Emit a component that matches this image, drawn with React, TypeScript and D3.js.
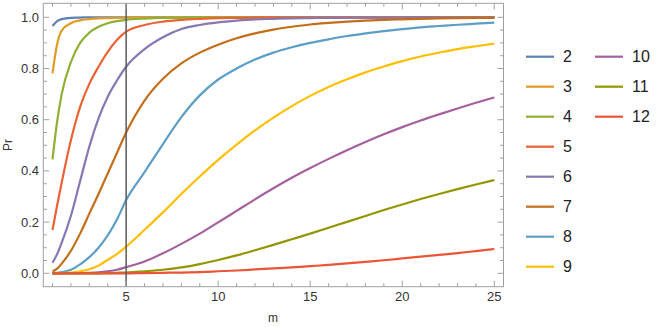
import * as d3 from "d3";

const mGrid = [1, 1.25, 1.5, 2, 2.5, 3, 3.5, 4, 4.5, 5, 6, 7, 8, 9, 10, 11, 12, 13, 14, 15, 16, 17, 18, 19, 20, 21, 22, 23, 24, 25];

const ones = (k: number) => Array(k).fill(1);
const zeros = (k: number) => Array(k).fill(0);

const n2 = [0.966, 0.985, 0.993, 0.998, 0.999, ...ones(25)];
const n3 = [0.781, 0.895, 0.948, 0.977, 0.988, 0.993, 0.996, 0.997, 0.998, 0.999, ...ones(20)];
const n4 = [0.445, 0.592, 0.7, 0.825, 0.9, 0.94, 0.963, 0.977, 0.985, 0.99, 0.995, 0.998, 0.999, ...ones(17)];
const n5 = [0.169, 0.265, 0.355, 0.52, 0.65, 0.74, 0.807, 0.865, 0.911, 0.944, 0.97, 0.983, 0.99, 0.994, 0.997, 0.998, 0.999, ...ones(13)];
const n6 = [0.041, 0.075, 0.12, 0.225, 0.36, 0.495, 0.605, 0.69, 0.753, 0.807, 0.876, 0.922, 0.954, 0.97, 0.98, 0.987, 0.992, 0.994, 0.996, 0.997, 0.998, 0.998, 0.999, 0.999, 0.999, 1, 1, 1, 1, 1];
const n7 = [0.007, 0.018, 0.038, 0.088, 0.155, 0.233, 0.31, 0.39, 0.47, 0.55, 0.675, 0.76, 0.82, 0.862, 0.893, 0.918, 0.937, 0.952, 0.963, 0.972, 0.978, 0.983, 0.987, 0.99, 0.992, 0.994, 0.9955, 0.9966, 0.9975, 0.998];
const n8 = [0.001, 0.002, 0.005, 0.014, 0.035, 0.063, 0.1, 0.148, 0.21, 0.286, 0.395, 0.505, 0.61, 0.695, 0.757, 0.8, 0.835, 0.862, 0.883, 0.9, 0.914, 0.927, 0.937, 0.946, 0.954, 0.961, 0.966, 0.971, 0.975, 0.979];
const n9 = [0, 0, 0.001, 0.003, 0.008, 0.016, 0.03, 0.053, 0.075, 0.104, 0.17, 0.238, 0.31, 0.378, 0.443, 0.503, 0.558, 0.608, 0.653, 0.693, 0.728, 0.758, 0.785, 0.808, 0.829, 0.847, 0.862, 0.876, 0.887, 0.897];
const n10 = [0, 0, 0, 0, 0.001, 0.002, 0.004, 0.008, 0.014, 0.024, 0.046, 0.078, 0.115, 0.155, 0.199, 0.244, 0.289, 0.332, 0.373, 0.411, 0.447, 0.481, 0.513, 0.543, 0.571, 0.597, 0.621, 0.644, 0.666, 0.687];
const n11 = [0, 0, 0, 0, 0, 0, 0, 0.001, 0.002, 0.003, 0.008, 0.014, 0.023, 0.036, 0.052, 0.07, 0.09, 0.111, 0.133, 0.155, 0.178, 0.201, 0.224, 0.247, 0.269, 0.29, 0.31, 0.329, 0.347, 0.364];
const n12 = [...zeros(10), 0.001, 0.002, 0.003, 0.005, 0.008, 0.011, 0.015, 0.019, 0.023, 0.028, 0.033, 0.039, 0.045, 0.051, 0.058, 0.065, 0.072, 0.079, 0.087, 0.095];

const seriesNames = ["2", "3", "4", "5", "6", "7", "8", "9", "10", "11", "12"];
const seriesValues = [n2, n3, n4, n5, n6, n7, n8, n9, n10, n11, n12];
const colors = ["#5e81b5", "#e19c24", "#8fb032", "#eb6235", "#8778b3", "#c56e1a", "#5d9ec7", "#ffbf00", "#a5609d", "#929600", "#e95536"];

const xTicks = [5, 10, 15, 20, 25];
const yTicks = [0, 0.2, 0.4, 0.6, 0.8, 1.0];
const markerM = 5;

const W = 664;
const H = 327;
const plot = { left: 43.3, right: 503.5, top: 3.3, bottom: 286.7 };

export default function App() {
  const x = d3.scaleLinear().domain([0.5, 25.5]).range([plot.left, plot.right]);
  const y = d3.scaleLinear().domain([-0.0523, 1.0547]).range([plot.bottom, plot.top]);

  const line = d3
    .line<[number, number]>()
    .x((d) => x(d[0]))
    .y((d) => y(d[1]))
    .curve(d3.curveMonotoneX);

  const xMinor = d3.range(1, 26, 1).filter((t) => !xTicks.includes(t));
  const yMinor = d3.range(0, 1.0001, 0.05).filter((t) => !yTicks.some((v) => Math.abs(v - t) < 1e-6));

  const frameColor = "#a0a0a0";
  const tickColor = "#a0a0a0";
  const font = "'Liberation Sans', Arial, sans-serif";
  const major = 6;
  const minor = 3.5;

  return (
    <svg width={W} height={H} style={{ position: "absolute", left: 0, top: 0 }} fontFamily={font}>
      <rect width={W} height={H} fill="#fff" />
      <defs>
        <clipPath id="plotclip">
          <rect x={plot.left} y={plot.top} width={plot.right - plot.left} height={plot.bottom - plot.top} />
        </clipPath>
      </defs>

      {/* curves */}
      <g clipPath="url(#plotclip)">
        {seriesValues.map((vals, i) => (
          <path
            key={i}
            d={line(mGrid.map((m, j) => [m, vals[j]] as [number, number])) || ""}
            fill="none"
            stroke={colors[i]}
            strokeWidth={2.2}
          />
        ))}
        <line x1={x(markerM)} x2={x(markerM)} y1={plot.top} y2={plot.bottom} stroke="#5a5a5a" strokeWidth={1.5} />
      </g>

      {/* frame */}
      <rect
        x={plot.left}
        y={plot.top}
        width={plot.right - plot.left}
        height={plot.bottom - plot.top}
        fill="none"
        stroke={frameColor}
        strokeWidth={1}
      />

      {/* x ticks */}
      {xTicks.map((t) => (
        <g key={"xt" + t}>
          <line x1={x(t)} x2={x(t)} y1={plot.bottom} y2={plot.bottom - major} stroke={tickColor} />
          <line x1={x(t)} x2={x(t)} y1={plot.top} y2={plot.top + major} stroke={tickColor} />
          <text x={x(t)} y={301} textAnchor="middle" fontSize={13} fill="#333">
            {t}
          </text>
        </g>
      ))}
      {xMinor.map((t) => (
        <g key={"xm" + t}>
          <line x1={x(t)} x2={x(t)} y1={plot.bottom} y2={plot.bottom - minor} stroke={tickColor} />
          <line x1={x(t)} x2={x(t)} y1={plot.top} y2={plot.top + minor} stroke={tickColor} />
        </g>
      ))}

      {/* y ticks */}
      {yTicks.map((t) => (
        <g key={"yt" + t}>
          <line x1={plot.left} x2={plot.left + major} y1={y(t)} y2={y(t)} stroke={tickColor} />
          <line x1={plot.right} x2={plot.right - major} y1={y(t)} y2={y(t)} stroke={tickColor} />
          <text x={39} y={y(t)} dy="0.35em" textAnchor="end" fontSize={13} fill="#333">
            {t.toFixed(1)}
          </text>
        </g>
      ))}
      {yMinor.map((t) => (
        <g key={"ym" + t}>
          <line x1={plot.left} x2={plot.left + minor} y1={y(t)} y2={y(t)} stroke={tickColor} />
          <line x1={plot.right} x2={plot.right - minor} y1={y(t)} y2={y(t)} stroke={tickColor} />
        </g>
      ))}

      {/* axis labels */}
      <text x={273} y={322} textAnchor="middle" fontSize={12} fill="#333">
        m
      </text>
      <text transform={`translate(12,${(plot.top + plot.bottom) / 2}) rotate(-90)`} textAnchor="middle" fontSize={12} fill="#333">
        Pr
      </text>

      {/* legend */}
      {seriesNames.map((name, i) => {
        const col = i < 8 ? 0 : 1;
        const row = i < 8 ? i : i - 8;
        const lx = col === 0 ? 526 : 595;
        const ly = 56.7 + row * 30;
        return (
          <g key={"lg" + name}>
            <line x1={lx} x2={lx + 28} y1={ly} y2={ly} stroke={colors[i]} strokeWidth={2.2} />
            <text x={lx + 37} y={ly} dy="0.36em" fontSize={16} fill="#222">
              {name}
            </text>
          </g>
        );
      })}
    </svg>
  );
}
